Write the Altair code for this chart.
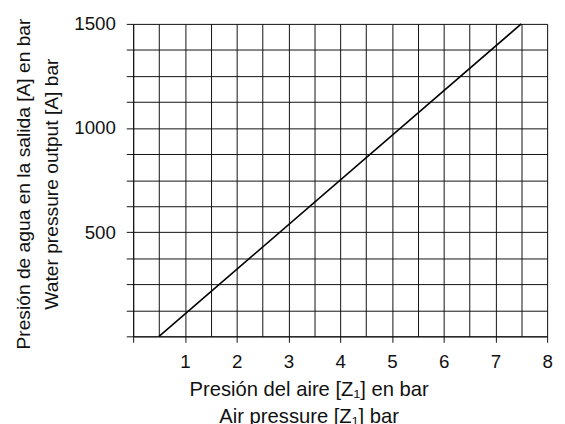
import altair as alt
import pandas as pd

air_pressure = [0.5, 7.5]
water_pressure = [0, 1500]

x_grid = [0, 0.5, 1, 1.5, 2, 2.5, 3, 3.5, 4, 4.5, 5, 5.5, 6, 6.5, 7, 7.5, 8]
y_grid = [0, 125, 250, 375, 500, 625, 750, 875, 1000, 1125, 1250, 1375, 1500]

df = pd.DataFrame({"x": air_pressure, "y": water_pressure})

FONT = "Liberation Sans"
INK = "#111"

chart = alt.Chart(df).mark_line(color="black", strokeWidth=1.6).encode(
    x=alt.X(
        "x:Q",
        scale=alt.Scale(domain=[0, 8], nice=False, zero=False),
        axis=alt.Axis(
            values=x_grid,
            grid=True,
            gridColor=INK,
            gridOpacity=1,
            gridWidth=1,
            tickColor=INK,
            tickSize=6,
            tickOpacity={"condition": {"test": "datum.value % 1 === 0", "value": 1}, "value": 0},
            labelExpr="(datum.value % 1 === 0 && datum.value > 0) ? format(datum.value, 'd') : ''",
            labelFont=FONT,
            labelFontSize=19,
            labelColor=INK,
            labelPadding=11,
            labelFlush=False,
            labelOverlap=False,
            domainColor=INK,
            title=["Presión del aire [Z₁] en bar", "Air pressure [Z₁]  bar"],
            titleFont=FONT,
            titleFontSize=20.5,
            titleFontWeight="normal",
            titleColor=INK,
            titleLineHeight=27,
            titleBaseline="alphabetic",
            titleAlign="center",
            titleX=178,
            titleY=60,
        ),
    ),
    y=alt.Y(
        "y:Q",
        scale=alt.Scale(domain=[0, 1500], nice=False),
        axis=alt.Axis(
            values=y_grid,
            grid=True,
            gridColor=INK,
            gridOpacity=1,
            gridWidth=1,
            tickColor=INK,
            tickSize=7,
            labelExpr="(datum.value % 500 === 0 && datum.value > 0) ? format(datum.value, 'd') : ''",
            labelFont=FONT,
            labelFontSize=19,
            labelColor=INK,
            labelPadding=11,
            labelFlush=False,
            labelOverlap=False,
            domainColor=INK,
            title=["Presión de agua en la salida [A] en bar", "Water pressure output [A] bar"],
            titleFont=FONT,
            titleFontSize=19.5,
            titleFontWeight="normal",
            titleColor=INK,
            titleLineHeight=28,
            titleBaseline="alphabetic",
            titleAlign="center",
            titleAngle=270,
            titleX=-105,
            titleY=162,
        ),
    ),
).properties(
    width=420,
    height=317,
    autosize=alt.AutoSizeParams(type="none"),
    padding={"left": 127, "top": 13, "right": 10, "bottom": 100},
).configure_view(stroke=None).configure(background="white")

chart.save("out.html", embed_options={"renderer": "svg", "actions": False})
